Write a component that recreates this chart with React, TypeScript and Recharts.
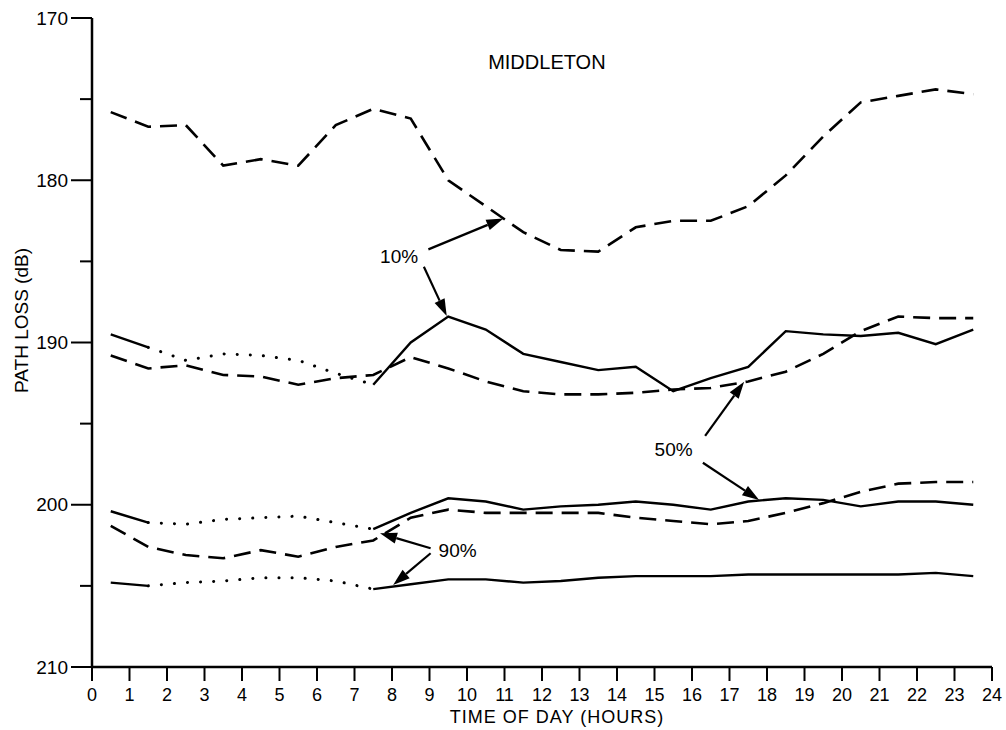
import {
  LineChart,
  Line,
  XAxis,
  YAxis,
  ReferenceLine,
  ReferenceDot,
} from "recharts";

// half-hour sample times
const hours = [
  0.5, 1.5, 2.5, 3.5, 4.5, 5.5, 6.5, 7.5, 8.5, 9.5, 10.5, 11.5, 12.5, 13.5,
  14.5, 15.5, 16.5, 17.5, 18.5, 19.5, 20.5, 21.5, 22.5, 23.5,
];
const hourTicks = [
  0, 1, 2, 3, 4, 5, 6, 7, 8, 9, 10, 11, 12, 13, 14, 15, 16, 17, 18, 19, 20,
  21, 22, 23, 24,
];
const lossTicks = [170, 175, 180, 185, 190, 195, 200, 205, 210];

// dashed curves (10%, 50%, 90%)
const dashed10 = [
  175.8, 176.7, 176.6, 179.1, 178.7, 179.1, 176.6, 175.6, 176.2, 180.0, 181.6,
  183.2, 184.3, 184.4, 182.9, 182.5, 182.5, 181.6, 179.7, 177.3, 175.2, 174.8,
  174.4, 174.7,
];
const dashed50 = [
  190.8, 191.6, 191.4, 192.0, 192.1, 192.6, 192.2, 192.0, 190.9, 191.6, 192.4,
  193.0, 193.2, 193.2, 193.1, 192.9, 192.8, 192.4, 191.8, 190.7, 189.3, 188.4,
  188.5, 188.5,
];
const dashed90 = [
  201.3, 202.6, 203.1, 203.3, 202.8, 203.2, 202.6, 202.2, 200.8, 200.3, 200.5,
  200.5, 200.5, 200.5, 200.8, 201.0, 201.2, 201.0, 200.5, 199.9, 199.2, 198.7,
  198.6, 198.6,
];

// solid curves (10%, 50%, 90%); dotted between 01:30 and 07:30
const solid10 = [
  189.5, 190.3, 191.1, 190.7, 190.8, 191.1, 191.9, 192.6, 190.0, 188.4, 189.2,
  190.7, 191.2, 191.7, 191.5, 193.0, 192.2, 191.5, 189.3, 189.5, 189.6, 189.4,
  190.1, 189.2,
];
const solid50 = [
  200.4, 201.1, 201.2, 200.9, 200.8, 200.7, 201.1, 201.5, 200.5, 199.6, 199.8,
  200.3, 200.1, 200.0, 199.8, 200.0, 200.3, 199.8, 199.6, 199.7, 200.1, 199.8,
  199.8, 200.0,
];
const solid90 = [
  204.8, 205.0, 204.8, 204.7, 204.5, 204.5, 204.7, 205.2, 204.9, 204.6, 204.6,
  204.8, 204.7, 204.5, 204.4, 204.4, 204.4, 204.3, 204.3, 204.3, 204.3, 204.3,
  204.2, 204.4,
];
const dottedFrom = 1.5;
const dottedTo = 7.5;

// annotation arrows, [hour, dB] -> [hour, dB]
const arrows = [
  { from: [8.97, 184.26], to: [10.97, 182.35] },
  { from: [8.85, 185.33], to: [9.46, 188.37] },
  { from: [16.35, 195.76], to: [17.39, 192.42] },
  { from: [16.29, 197.41], to: [17.79, 199.71] },
  { from: [9.03, 202.68], to: [7.68, 201.76] },
  { from: [9.03, 202.99], to: [8.03, 204.94] },
];
const notes = [
  { text: "MIDDLETON", at: [12.13, 172.71], size: 20 },
  { text: "10%", at: [8.19, 184.67], size: 19 },
  { text: "50%", at: [15.51, 196.59], size: 19 },
  { text: "90%", at: [9.75, 202.8], size: 19 },
];

const inDots = (h: number) => h >= dottedFrom && h <= dottedTo;
const inGap = (h: number) => h > dottedFrom && h < dottedTo;

const rows = hours.map((hour, i) => ({
  hour,
  dashed10: dashed10[i],
  dashed50: dashed50[i],
  dashed90: dashed90[i],
  solid10: inGap(hour) ? null : solid10[i],
  solid50: inGap(hour) ? null : solid50[i],
  solid90: inGap(hour) ? null : solid90[i],
  dots10: inDots(hour) ? solid10[i] : null,
  dots50: inDots(hour) ? solid50[i] : null,
  dots90: inDots(hour) ? solid90[i] : null,
}));

const FONT = '"Liberation Sans", Arial, Helvetica, sans-serif';

function YTick({ x, y, payload }: any) {
  const major = payload.value % 10 === 0;
  return (
    <g>
      <line
        x1={x - (major ? 21 : 12)}
        x2={x}
        y1={y}
        y2={y}
        stroke="#000"
        strokeWidth={2}
      />
      {major && (
        <text
          x={x - 24}
          y={y}
          dy="0.35em"
          textAnchor="end"
          fontSize={19}
          fill="#000"
        >
          {payload.value}
        </text>
      )}
    </g>
  );
}

function XTick({ x, y, payload }: any) {
  return (
    <text x={x} y={y} dy="0.71em" textAnchor="middle" fontSize={18} fill="#000">
      {payload.value}
    </text>
  );
}

function Arrow({ x1, y1, x2, y2 }: any) {
  const dx = x2 - x1;
  const dy = y2 - y1;
  const len = Math.hypot(dx, dy) || 1;
  const ux = dx / len;
  const uy = dy / len;
  const head = 17;
  const half = 5.5;
  const bx = x2 - ux * head;
  const by = y2 - uy * head;
  return (
    <g>
      <line x1={x1} y1={y1} x2={bx} y2={by} stroke="#000" strokeWidth={2.2} />
      <polygon
        points={`${x2},${y2} ${bx - uy * half},${by + ux * half} ${bx + uy * half},${by - ux * half}`}
        fill="#000"
      />
    </g>
  );
}

const yTitle = (props: any) => {
  const vb = props.viewBox ?? { x: 0, y: 18, width: 92, height: 649 };
  const cx = 21;
  const cy = vb.y + vb.height / 2 - 22;
  return (
    <text
      x={cx}
      y={cy}
      dy="0.35em"
      transform={`rotate(-90 ${cx} ${cy})`}
      textAnchor="middle"
      fontSize={19}
      fill="#000"
    >
      PATH LOSS (dB)
    </text>
  );
};

const xTitle = (props: any) => {
  const vb = props.viewBox ?? { x: 92, y: 667, width: 900, height: 63 };
  return (
    <text
      x={vb.x + vb.width / 2 + 15}
      y={723}
      textAnchor="middle"
      fontSize={18}
      letterSpacing={1}
      fill="#000"
    >
      TIME OF DAY (HOURS)
    </text>
  );
};

const solidStyle = { stroke: "#000", strokeWidth: 2.4 };
const dashStyle = { stroke: "#000", strokeWidth: 2.6, strokeDasharray: "17 9" };
const dotStyle = {
  stroke: "#000",
  strokeWidth: 3,
  strokeDasharray: "0.1 13",
  strokeLinecap: "round" as const,
};

export default function App() {
  return (
    <div
      style={{
        position: "absolute",
        left: 0,
        top: 0,
        width: 1006,
        height: 730,
        background: "#fff",
        fontFamily: FONT,
      }}
    >
      <LineChart
        width={1006}
        height={730}
        data={rows}
        margin={{ top: 18, right: 14, bottom: 0, left: 0 }}
      >
        <XAxis
          type="number"
          dataKey="hour"
          domain={[0, 24]}
          ticks={hourTicks}
          interval={0}
          height={63}
          tickSize={14}
          tickMargin={7}
          axisLine={{ stroke: "#000", strokeWidth: 2.5 }}
          tickLine={{ stroke: "#000", strokeWidth: 2 }}
          tick={<XTick />}
          label={xTitle}
        />
        <YAxis
          type="number"
          domain={[170, 210]}
          reversed
          ticks={lossTicks}
          interval={0}
          width={92}
          tickSize={0}
          tickMargin={0}
          axisLine={{ stroke: "#000", strokeWidth: 2.5 }}
          tickLine={false}
          tick={<YTick />}
          label={yTitle}
        />

        <Line type="linear" dataKey="dashed10" {...dashStyle} dot={false} activeDot={false} isAnimationActive={false} />
        <Line type="linear" dataKey="dashed50" {...dashStyle} dot={false} activeDot={false} isAnimationActive={false} />
        <Line type="linear" dataKey="dashed90" {...dashStyle} dot={false} activeDot={false} isAnimationActive={false} />

        <Line type="linear" dataKey="solid10" {...solidStyle} dot={false} activeDot={false} isAnimationActive={false} />
        <Line type="linear" dataKey="solid50" {...solidStyle} dot={false} activeDot={false} isAnimationActive={false} />
        <Line type="linear" dataKey="solid90" {...solidStyle} dot={false} activeDot={false} isAnimationActive={false} />

        <Line type="linear" dataKey="dots10" {...dotStyle} dot={false} activeDot={false} isAnimationActive={false} />
        <Line type="linear" dataKey="dots50" {...dotStyle} dot={false} activeDot={false} isAnimationActive={false} />
        <Line type="linear" dataKey="dots90" {...dotStyle} dot={false} activeDot={false} isAnimationActive={false} />

        {arrows.map((a, i) => (
          <ReferenceLine
            key={`arrow-${i}`}
            segment={[
              { x: a.from[0], y: a.from[1] },
              { x: a.to[0], y: a.to[1] },
            ]}
            ifOverflow="visible"
            shape={(p: any) => <Arrow {...p} />}
          />
        ))}
        {notes.map((n) => (
          <ReferenceDot
            key={n.text}
            x={n.at[0]}
            y={n.at[1]}
            r={0}
            ifOverflow="visible"
            shape={(p: any) => (
              <text
                x={p.cx}
                y={p.cy}
                dy="0.35em"
                textAnchor="middle"
                fontSize={n.size}
                fill="#000"
              >
                {n.text}
              </text>
            )}
          />
        ))}
      </LineChart>
    </div>
  );
}
